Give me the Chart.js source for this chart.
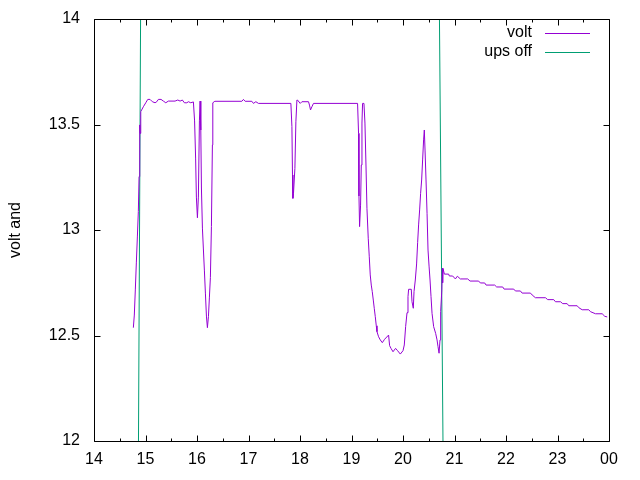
<!DOCTYPE html>
<html>
<head>
<meta charset="utf-8">
<script src="https://cdn.jsdelivr.net/npm/chart.js@4/dist/chart.umd.min.js"></script>
<style>
  html, body { margin: 0; padding: 0; background: #fff; }
  #wrap { width: 640px; height: 480px; }
</style>
</head>
<body>
<div id="wrap"><canvas id="myChart" width="640" height="480"></canvas></div>
<script>
// heures (14 -> 24 = minuit) et tension
const voltHours = [
  14.764, 14.783, 14.803, 14.822, 14.842, 14.861, 14.875, 14.888, 14.894, 14.908,
  14.958, 15.005, 15.044, 15.088, 15.133, 15.186, 15.219, 15.250, 15.302, 15.347,
  15.394, 15.444, 15.574, 15.627, 15.672, 15.716, 15.755, 15.802, 15.833, 15.879,
  15.930, 15.953, 15.973, 15.988, 16.008, 16.027, 16.047, 16.060, 16.074, 16.086,
  16.105, 16.124, 16.144, 16.163, 16.183, 16.202, 16.222, 16.241, 16.260, 16.280,
  16.299, 16.307, 16.346, 16.871, 16.902, 16.935, 17.065, 17.096, 17.143, 17.193,
  17.823, 17.843, 17.854, 17.862, 17.874, 17.901, 17.920, 17.940, 17.951, 18.004,
  18.037, 18.165, 18.184, 18.204, 18.231, 18.262, 19.118, 19.137, 19.145, 19.157,
  19.176, 19.190, 19.203, 19.215, 19.242, 19.261, 19.281, 19.300, 19.325, 19.345,
  19.364, 19.384, 19.403, 19.423, 19.442, 19.462, 19.481, 19.495, 19.526, 19.559,
  19.598, 19.642, 19.720, 19.740, 19.767, 19.806, 19.856, 19.895, 19.948, 20.000,
  20.025, 20.051, 20.078, 20.097, 20.109, 20.161, 20.175, 20.200, 20.214, 20.239,
  20.264, 20.284, 20.303, 20.323, 20.342, 20.362, 20.381, 20.400, 20.414, 20.428,
  20.447, 20.467, 20.486, 20.506, 20.525, 20.544, 20.564, 20.595, 20.634, 20.661,
  20.680, 20.700, 20.719, 20.731, 20.754, 20.764, 20.770, 20.777, 20.803, 20.886,
  20.900, 20.964, 21.017, 21.055, 21.114, 21.256, 21.302, 21.469, 21.502, 21.586,
  21.613, 21.780, 21.819, 21.936, 21.963, 22.150, 22.183, 22.280, 22.313, 22.475,
  22.508, 22.571, 22.766, 22.810, 22.927, 22.960, 23.058, 23.102, 23.187, 23.219,
  23.382, 23.413, 23.479, 23.607, 23.640, 23.738, 23.868, 23.918, 23.965
];
const voltValues = [
  12.537, 12.597, 12.720, 12.844, 12.967, 13.087, 13.253, 13.498, 13.458, 13.561,
  13.584, 13.603, 13.619, 13.619, 13.608, 13.603, 13.608, 13.619, 13.619, 13.611,
  13.603, 13.611, 13.611, 13.616, 13.611, 13.616, 13.603, 13.603, 13.608, 13.603,
  13.607, 13.517, 13.341, 13.156, 13.058, 13.156, 13.517, 13.611, 13.474, 13.199,
  13.009, 12.910, 12.806, 12.701, 12.592, 12.537, 12.589, 12.682, 12.774, 13.016,
  13.403, 13.603, 13.610, 13.610, 13.619, 13.610, 13.610, 13.600, 13.608, 13.600,
  13.600, 13.490, 13.261, 13.150, 13.174, 13.292, 13.513, 13.616, 13.616, 13.600,
  13.608, 13.608, 13.592, 13.569, 13.584, 13.600, 13.600, 13.458, 13.161, 13.016,
  13.118, 13.308, 13.507, 13.600, 13.600, 13.507, 13.308, 13.103, 12.961, 12.873,
  12.787, 12.739, 12.708, 12.668, 12.629, 12.589, 12.546, 12.518, 12.494, 12.479,
  12.466, 12.482, 12.502, 12.452, 12.439, 12.423, 12.439, 12.428, 12.412, 12.428,
  12.455, 12.542, 12.608, 12.684, 12.719, 12.719, 12.660, 12.629, 12.708, 12.763,
  12.839, 12.940, 13.024, 13.095, 13.174, 13.237, 13.332, 13.427, 13.474, 13.379,
  13.237, 13.079, 12.905, 12.829, 12.763, 12.684, 12.605, 12.542, 12.510, 12.479,
  12.447, 12.416, 12.479, 12.613, 12.716, 12.818, 12.750, 12.818, 12.791, 12.791,
  12.782, 12.782, 12.768, 12.781, 12.768, 12.768, 12.758, 12.758, 12.749, 12.749,
  12.739, 12.739, 12.730, 12.730, 12.720, 12.720, 12.711, 12.711, 12.701, 12.701,
  12.692, 12.679, 12.679, 12.670, 12.670, 12.660, 12.660, 12.651, 12.651, 12.641,
  12.641, 12.632, 12.622, 12.622, 12.613, 12.603, 12.603, 12.591, 12.588
];

// coupure onduleur : valeurs hors de l'échelle, seules les transitions se voient
const upsHours = [14.863, 14.905, 20.706, 20.778];
const upsValues = [11.97, 14.03, 14.05, 11.95];

const xTicks = [14, 15, 16, 17, 18, 19, 20, 21, 22, 23, 24];
const xTickLabels = ['14', '15', '16', '17', '18', '19', '20', '21', '22', '23', '00'];
const yTicks = [12, 12.5, 13, 13.5, 14];
const yTickLabels = ['12', '12.5', '13', '13.5', '14'];

const FONT = "'Liberation Sans', Arial, sans-serif";

// cadre + graduations vers l'intérieur, comme gnuplot
const framePlugin = {
    id: 'frame',
    afterDraw(chart) {
        const ctx = chart.ctx;
        const a = chart.chartArea;
        const xs = chart.scales.x, ys = chart.scales.y;
        ctx.save();
        ctx.strokeStyle = '#000';
        ctx.lineWidth = 1;
        ctx.beginPath();
        ctx.rect(a.left + 0.5, a.top + 0.5, a.right - a.left, a.bottom - a.top);
        ctx.stroke();
        ctx.beginPath();
        xTicks.forEach((v, i) => {
            const px = Math.round(xs.getPixelForValue(v)) + 0.5;
            ctx.moveTo(px, a.bottom + 0.5); ctx.lineTo(px, a.bottom + 0.5 - 6);
            ctx.moveTo(px, a.top + 0.5); ctx.lineTo(px, a.top + 0.5 + 6);
            if (i < xTicks.length - 1) {
                const pm = Math.round(xs.getPixelForValue(v + 0.5)) + 0.5;
                ctx.moveTo(pm, a.bottom + 0.5); ctx.lineTo(pm, a.bottom + 0.5 - 3);
                ctx.moveTo(pm, a.top + 0.5); ctx.lineTo(pm, a.top + 0.5 + 3);
            }
        });
        yTicks.forEach(v => {
            const py = Math.round(ys.getPixelForValue(v)) + 0.5;
            ctx.moveTo(a.left + 0.5, py); ctx.lineTo(a.left + 0.5 + 6, py);
            ctx.moveTo(a.right + 0.5, py); ctx.lineTo(a.right + 0.5 - 6, py);
        });
        ctx.stroke();

        // légende en haut à droite : texte puis trait
        ctx.font = '16px ' + FONT;
        ctx.textAlign = 'right';
        ctx.textBaseline = 'middle';
        chart.data.datasets.forEach((ds, i) => {
            const y = 33 + i * 19;
            ctx.fillStyle = '#000';
            ctx.fillText(ds.label, 532, y);
            ctx.strokeStyle = ds.borderColor;
            ctx.beginPath();
            ctx.moveTo(545, y + 0.5);
            ctx.lineTo(590, y + 0.5);
            ctx.stroke();
        });
        ctx.restore();
    }
};

Chart.defaults.color = '#000';
Chart.defaults.font.family = FONT;
Chart.defaults.font.size = 16;

const ctx = document.getElementById('myChart').getContext('2d');
const myChart = new Chart(ctx, {
    type: 'line',
    data: {
        datasets: [{
            label: 'volt',
            data: voltHours.map((h, i) => ({ x: h, y: voltValues[i] })),
            borderColor: '#9400d3',
            borderWidth: 1,
            pointRadius: 0,
            pointHoverRadius: 0,
            tension: 0
        }, {
            label: 'ups off',
            data: upsHours.map((h, i) => ({ x: h, y: upsValues[i] })),
            borderColor: '#009e73',
            borderWidth: 1,
            pointRadius: 0,
            pointHoverRadius: 0,
            tension: 0
        }]
    },
    options: {
        responsive: false,
        animation: false,
        devicePixelRatio: 1,
        events: [],
        layout: { autoPadding: false, padding: { top: 19, right: 31, bottom: 0, left: 0 } },
        plugins: {
            legend: { display: false },
            tooltip: { enabled: false }
        },
        scales: {
            x: {
                type: 'linear',
                min: 14,
                max: 24,
                afterBuildTicks: s => { s.ticks = xTicks.map(v => ({ value: v })); },
                afterFit: s => { s.height = 39; },
                grid: { display: false, drawTicks: false },
                border: { display: false },
                ticks: {
                    padding: 9,
                    maxRotation: 0,
                    autoSkip: false,
                    callback: v => xTickLabels[xTicks.indexOf(v)]
                }
            },
            y: {
                min: 12,
                max: 14,
                afterBuildTicks: s => { s.ticks = yTicks.map(v => ({ value: v })); },
                afterFit: s => { s.width = 94; },
                grid: { display: false, drawTicks: false },
                border: { display: false },
                ticks: {
                    padding: 14,
                    font: { size: 16, lineHeight: 0.5 },
                    callback: v => yTickLabels[yTicks.indexOf(v)]
                },
                title: {
                    display: true,
                    text: 'volt and',
                    padding: { top: 6, bottom: 0 }
                }
            }
        }
    },
    plugins: [framePlugin]
});
</script>
</body>
</html>
